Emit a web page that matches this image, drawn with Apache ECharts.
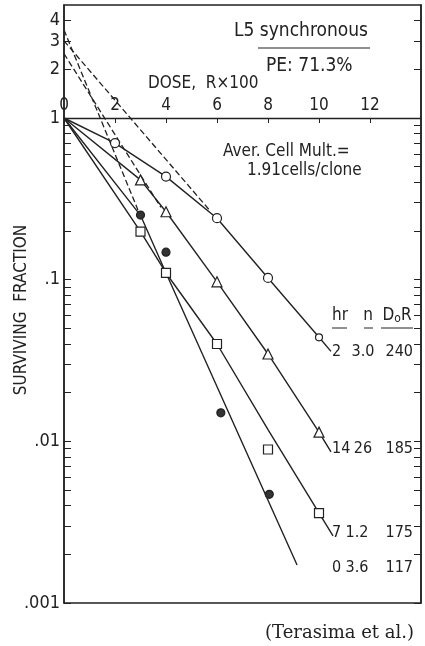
<!DOCTYPE html>
<html>
<head>
<meta charset="utf-8">
<title>L5 synchronous</title>
<script src="https://cdn.jsdelivr.net/npm/echarts@6/dist/echarts.min.js"></script>
<style>
  html, body { margin: 0; padding: 0; background: #fff; }
  #main { width: 425px; height: 646px; }
</style>
</head>
<body>
<div id="main"></div>
<script>
// dose in R x 100, survival as fraction (plotted on log10 scale)
var xLabels = [0, 2, 4, 6, 8, 10, 12];
var yLabels = [0.001, 0.01, 0.1, 1, 2, 3, 4];
var yTicks = [];
[0.001, 0.01, 0.1].forEach(function (d) {
    for (var k = 1; k <= 9; k++) yTicks.push(k * d);
});
yTicks.push(1, 2, 3, 4);

// measured points
var dose2 = [2, 4, 6, 8, 10];
var surv2 = [0.70, 0.434, 0.24, 0.1025, 0.044];       // 2 hr, open circles
var dose14 = [3, 4, 6, 8, 10];
var surv14 = [0.414, 0.263, 0.097, 0.0347, 0.0114];   // 14 hr, triangles
var dose7 = [3, 4, 6, 8, 10];
var surv7 = [0.198, 0.11, 0.040, 0.0089, 0.0036];     // 7 hr, squares
var dose0 = [3, 4, 6.15, 8.05];
var surv0 = [0.251, 0.148, 0.015, 0.0047];            // 0 hr, filled circles

// drawn curves [dose, survival]
var curve2 = [[0, 1], [2, 0.70], [4, 0.434], [6, 0.24], [8, 0.1025], [10, 0.044], [10.47, 0.036]];
var curve14 = [[0, 1], [3, 0.414], [4, 0.263], [6, 0.097], [8, 0.0347], [10, 0.0114], [10.47, 0.0086]];
var curve7 = [[0, 1], [3, 0.198], [4, 0.11], [6, 0.040], [8, 0.0118], [10.55, 0.0026]];
var curve0 = [[0, 1], [3, 0.25], [4, 0.11], [9.14, 0.00172]];

// dashed extrapolations back to n
var ext2 = [[0, 3.0], [5.7, 0.27]];
var ext14 = [[0, 2.5], [3.8, 0.28]];
var ext0 = [[0, 3.5], [2.9, 0.27]];

// table at right
var tableHr = ['2', '14', '7', '0'];
var tableN = ['3.0', '26', '1.2', '3.6'];
var tableD0 = ['240', '185', '175', '117'];

var FONT = "'DejaVu Sans Condensed', 'Liberation Sans Narrow', sans-serif";
var INK = '#222';
var Y_MAX = Math.log10(5);

function lg(v) { return Math.log10(v); }
function pts(xs, ys) { return xs.map(function (x, i) { return [x, lg(ys[i])]; }); }
function crv(c) { return c.map(function (p) { return [p[0], lg(p[1])]; }); }

var myChart = echarts.init(document.getElementById('main'));

// grid geometry, used to drop the dose axis onto the S = 1 line
var GRID = { left: 64, right: 4, top: 5, bottom: 43 };
var plotH = 646 - GRID.top - GRID.bottom;
var axisDrop = plotH * Y_MAX / (Y_MAX + 3);

function lineSeries(data, dashed) {
    return {
        type: 'line',
        data: crv(data),
        showSymbol: false,
        silent: true,
        z: 2,
        lineStyle: {
            color: INK,
            width: dashed ? 1.3 : 1.4,
            type: dashed ? [6, 3] : 'solid'
        }
    };
}

function markSeries(data, symbol, size, fill) {
    return {
        type: 'scatter',
        data: data,
        symbol: symbol,
        symbolSize: size,
        z: 5,
        itemStyle: { color: fill, borderColor: INK, borderWidth: 1.2, opacity: 1 }
    };
}

function txt(x, y, s, size, align, extra) {
    var o = { type: 'text', x: x, y: y, style: { text: s, font: size + 'px ' + FONT, fill: INK, align: align || 'left', verticalAlign: 'middle' } };
    if (extra) for (var k in extra) o[k] = extra[k];
    return o;
}
function hline(x1, x2, y, w) {
    return { type: 'line', shape: { x1: x1, y1: y, x2: x2, y2: y }, style: { stroke: INK, lineWidth: w || 1 } };
}

var rows = [];
var rowY = [352, 449, 533, 568];
var rowNx = [363, 363, 357, 357];
tableHr.forEach(function (h, i) {
    rows.push(txt(332, rowY[i], h, 16, 'left'));
    rows.push(txt(rowNx[i], rowY[i], tableN[i], 16, 'center'));
    rows.push(txt(413, rowY[i], tableD0[i], 16, 'right'));
});

myChart.setOption({
    animation: false,
    backgroundColor: '#fff',
    grid: {
        left: GRID.left, right: GRID.right, top: GRID.top, bottom: GRID.bottom,
        show: true, borderColor: INK, borderWidth: 1.5, backgroundColor: '#fff'
    },
    xAxis: {
        type: 'value',
        min: 0, max: 14,
        position: 'top',
        offset: -axisDrop,
        axisLine: { onZero: false, lineStyle: { color: INK, width: 1.4 } },
        axisTick: { inside: true, length: 5, customValues: xLabels, lineStyle: { color: INK } },
        axisLabel: { margin: 4, customValues: xLabels, color: INK, fontSize: 17, fontFamily: FONT },
        splitLine: { show: false }
    },
    yAxis: [{
        type: 'value',
        min: -3, max: Y_MAX,
        position: 'left',
        axisLine: { show: true, onZero: false, lineStyle: { color: INK, width: 1.5 } },
        axisTick: { inside: true, length: 7, customValues: yTicks.map(lg), lineStyle: { color: INK } },
        axisLabel: {
            margin: 4, color: INK, fontSize: 18, fontFamily: FONT,
            customValues: yLabels.map(lg),
            formatter: function (v) {
                var s = String(+Math.pow(10, v).toPrecision(3));
                return s.replace(/^0\./, '.');
            }
        },
        splitLine: { show: false }
    }, {
        type: 'value',
        min: -3, max: Y_MAX,
        position: 'right',
        axisLine: { show: true, onZero: false, lineStyle: { color: INK, width: 1.5 } },
        axisTick: { inside: true, length: 7, customValues: yTicks.map(lg), lineStyle: { color: INK } },
        axisLabel: { show: false },
        splitLine: { show: false }
    }],
    series: [
        lineSeries(curve2), lineSeries(curve14), lineSeries(curve7), lineSeries(curve0),
        lineSeries(ext2, true), lineSeries(ext14, true), lineSeries(ext0, true),
        markSeries(pts(dose2, surv2), 'circle', function (v) { return v[0] >= 10 ? 7 : 9; }, '#fff'),
        markSeries(pts(dose14, surv14), 'triangle', 10, '#fff'),
        markSeries(pts(dose7, surv7), 'rect', 9, '#fff'),
        markSeries(pts(dose0, surv0), 'circle', 8, '#333')
    ],
    graphic: [
        txt(234, 31, 'L5 synchronous', 19),
        hline(258, 370, 48, 1.2),
        txt(266, 66, 'PE: 71.3%', 19),
        txt(148, 84, 'DOSE,  R\u00d7100', 17),
        txt(223, 152, 'Aver. Cell Mult.=', 17),
        txt(247, 171, '1.91cells/clone', 17),
        txt(22, 310, 'SURVIVING  FRACTION', 17, 'center', { rotation: Math.PI / 2 }),
        txt(340, 316, 'hr', 17, 'center'),
        txt(368, 316, 'n', 17, 'center'),
        {
            type: 'text', x: 397, y: 316,
            style: {
                text: 'D{s|o}R', font: '17px ' + FONT, fill: INK, align: 'center', verticalAlign: 'middle',
                rich: { s: { fontSize: 12, fontFamily: FONT, fill: INK, verticalAlign: 'bottom', padding: [6, 0, 0, 0] } }
            }
        },
        hline(332, 347, 328), hline(364, 373, 328), hline(381, 413, 328),
        {
            type: 'text', x: 414, y: 633,
            style: { text: '(Terasima et al.)', font: '18px "DejaVu Serif", serif', fill: INK, align: 'right', verticalAlign: 'middle' }
        }
    ].concat(rows)
});
</script>
</body>
</html>
